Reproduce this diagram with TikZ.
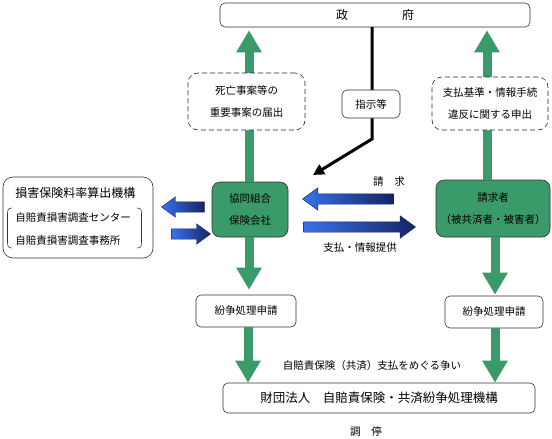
\documentclass[tikz,border=0pt]{standalone}
\usepackage{fontspec}
\setmainfont{Noto Sans CJK JP}
\usetikzlibrary{arrows.meta}
\usetikzlibrary{calc}
\usetikzlibrary{shapes}
\usetikzlibrary{shapes.arrows}

\definecolor{kyosai_green}{RGB}{58,154,106}
\definecolor{arrow_light}{RGB}{55,115,235}
\definecolor{arrow_dark}{RGB}{22,35,100}

\begin{document}
\begin{tikzpicture}[x=1pt, y=-1pt, semithick,
        box_style/.style={rectangle,rounded corners=5pt,draw=black!80,fill=white,align=center,inner sep=0pt,font=\fontsize{10.5}{22}\selectfont},
        green_box_style/.style={box_style,fill=kyosai_green,rounded corners=8pt},
        note_style/.style={box_style,draw=black!85,dash pattern=on 5pt off 3pt,rounded corners=10pt},
        label_style/.style={inner sep=0pt,font=\fontsize{10.5}{13}\selectfont},
        green_edge_style/.style={draw=kyosai_green, line width=9pt, -{Triangle[width=24pt,length=22pt]}},
        order_edge_style/.style={draw=black, line width=3pt, -{Triangle[width=11pt,length=11pt]}},
        flow_arrow_style/.style={single arrow, draw=arrow_dark, thin, left color=arrow_light, right color=arrow_dark, inner xsep=0pt, inner ysep=5pt, single arrow head extend=6pt, single arrow tip angle=72, single arrow head indent=0pt}]

        \useasboundingbox (0,0) rectangle (552,439);

        \node [box_style,minimum width=310,minimum height=24,font=\fontsize{12}{14}\selectfont](seifu) at (375,15) {政\hspace{54pt}府};

        \node [green_box_style,minimum width=76,minimum height=55](kyodo) at (250,209.5) {協同組合\\保険会社};

        \node [green_box_style,minimum width=114,minimum height=57](seikyusha) at (493,208.5) {請求者\\（被共済者・被害者）};

        \node [box_style,minimum width=100,minimum height=32](funso_l) at (246,311) {紛争処理申請};

        \node [box_style,minimum width=98,minimum height=32](funso_r) at (494,312) {紛争処理申請};

        \node [box_style,minimum width=312,minimum height=30,font=\fontsize{12.5}{15}\selectfont](kiko) at (379,398) {財団法人\hspace{1em}自賠責保険・共済紛争処理機構};

        \node [box_style,rounded corners=10pt,minimum width=150,minimum height=81](songai) at (78,217.5) {};

        \node [label_style,anchor=west,font=\fontsize{12}{14}\selectfont](songai_name) at (15,193) {損害保険料率算出機構};

        \node [label_style,anchor=west](center_l) at (15,218) {自賠責損害調査センター};

        \node [label_style,anchor=west](office_l) at (15,241) {自賠責損害調査事務所};

        \draw [black!80] (12,208) .. controls (8,208) and (7.5,210) .. (7.5,214) -- (7.5,242) .. controls (7.5,246) and (8,248) .. (12,248);

        \draw [black!80] (137,208) .. controls (141,208) and (141.5,210) .. (141.5,214) -- (141.5,242) .. controls (141.5,246) and (141,248) .. (137,248);

        \draw [green_edge_style,shorten >=3pt] ([xshift=-1pt]kyodo.north) -- ([xshift=-1pt]kyodo.north |- seifu.south);

        \draw [green_edge_style,shorten >=5pt] ([xshift=-1pt]kyodo.south) -- ([xshift=-1pt]kyodo.south |- funso_l.north);

        \draw [green_edge_style,shorten >=3pt] ([xshift=-6pt]seikyusha.north) -- ([xshift=-6pt]seikyusha.north |- seifu.south);

        \draw [green_edge_style,shorten >=1pt] ([xshift=2pt]seikyusha.south) -- ([xshift=2pt]seikyusha.south |- funso_r.north);

        \draw [green_edge_style] ([xshift=2pt]funso_l.south) -- ([xshift=2pt]funso_l.south |- kiko.north);

        \draw [green_edge_style] ([xshift=1pt]funso_r.south) -- ([xshift=1pt]funso_r.south |- kiko.north);

        \coordinate (shiji_bend) at (372,139);

        \coordinate (shiji_end) at (313,175);

        \draw [order_edge_style] (372,27) -- (shiji_bend) -- (shiji_end);

        \node [note_style,minimum width=117,minimum height=57](todoke) at (246.5,101.5) {死亡事案等の\\重要事案の届出};

        \node [note_style,minimum width=116,minimum height=53](moshide) at (490,103.5) {支払基準・情報手続\\違反に関する申出};

        \node [box_style,minimum width=58,minimum height=28](shiji) at (371,104) {指示等};

        \node [flow_arrow_style,shape border rotate=180,minimum height=91](seikyu_arrow) at (351.5,199) {};

        \node [flow_arrow_style,minimum height=112](shiharai_arrow) at (356,227) {};

        \node [flow_arrow_style,shape border rotate=180,minimum height=43,single arrow head extend=5pt](out_arrow) at (186.5,207) {};

        \node [flow_arrow_style,minimum height=39,single arrow head extend=5pt](in_arrow) at (187.5,234) {};

        \node [label_style](seikyu_label) at (389,182) {請\hspace{11pt}求};

        \node [label_style](shiharai_label) at (360,248) {支払・情報提供};

        \node [label_style](arasoi_label) at (372,366) {自賠責保険（共済）支払をめぐる争い};

        \node [label_style](chotei_label) at (366,432) {調\hspace{11pt}停};

        \end{tikzpicture}
\end{document}
